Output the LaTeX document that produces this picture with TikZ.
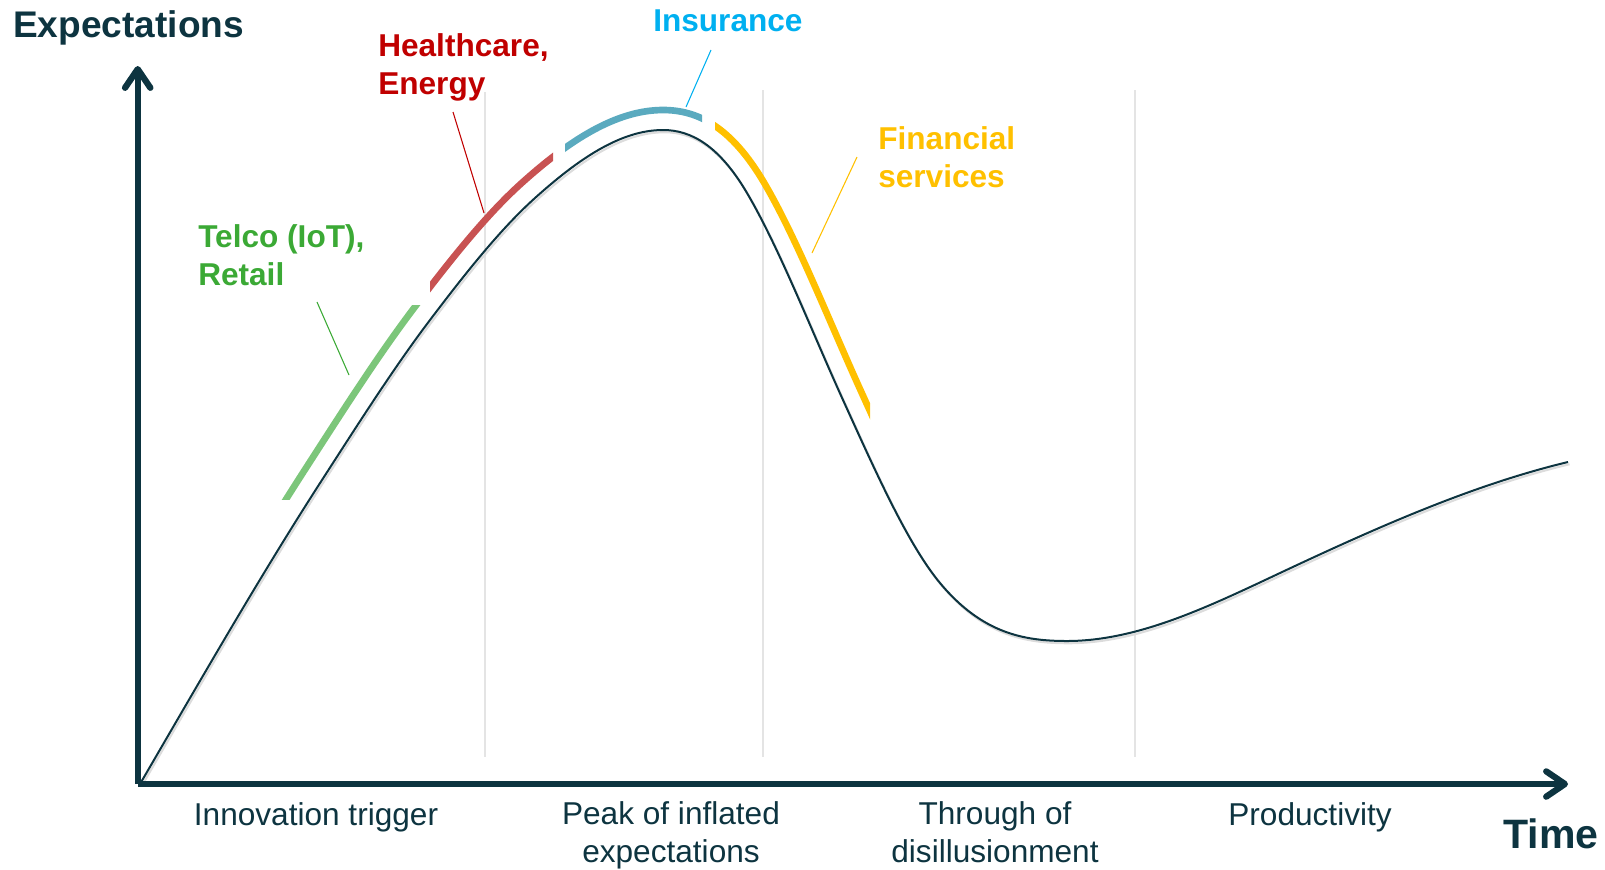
\documentclass[tikz,border=0pt]{standalone}
\usepackage{fontspec}
\setmainfont{Liberation Sans}
\usetikzlibrary{arrows.meta}
\definecolor{dk}{HTML}{0D3440}
\definecolor{gridgray}{HTML}{E4E4E4}
\definecolor{shadowgray}{HTML}{DCDCDC}
\definecolor{segGreen}{HTML}{7CC67A}
\definecolor{segRed}{HTML}{C85252}
\definecolor{segBlue}{HTML}{5AAABF}
\definecolor{segYellow}{HTML}{FFC000}
\definecolor{labGreen}{HTML}{3BA935}
\definecolor{labRed}{HTML}{C00000}
\definecolor{labBlue}{HTML}{00B0F0}
\definecolor{labYellow}{HTML}{FFC000}
\tikzset{
  axisline/.style={dk, line width=4.7pt, -{Straight Barb[length=14pt,width=19pt,round]}},
  phaseline/.style={gridgray, line width=1.9pt},
  mainline/.style={dk, line width=1.5pt},
  shadowline/.style={shadowgray, line width=1.6pt},
  segline/.style={line width=5pt},
  leader/.style={line width=0.8pt},
  catlab/.style={inner sep=0pt, align=left, anchor=base west, font=\bfseries\fontsize{23.7}{28}\selectfont},
  phaselab/.style={inner sep=0pt, align=center, anchor=base, text=dk, font=\fontsize{23.7}{28}\selectfont},
  axislab/.style={inner sep=0pt, anchor=base west, text=dk, font=\bfseries}
}
\begin{document}
\begin{tikzpicture}[x=0.75pt,y=-0.75pt]
\useasboundingbox (0,0) rectangle (1605,869);

% phase separators
\draw[phaseline] (485,92) -- (485,757);
\draw[phaseline] (763,90) -- (763,757);
\draw[phaseline] (1135,90) -- (1135,757);

% main hype curve with soft shadow
\foreach \st/\sx/\sy in {shadowline/1.5/2.2, mainline/0/0}{
  \draw[\st, shift={(\sx,\sy)}]
    (140,784) .. controls (200.7,679.7) and (261.3,574) .. (322,480)
    .. controls (358,424.2) and (394,367.5) .. (430,320)
    .. controls (465,273.8) and (500,229.5) .. (535,198)
    .. controls (577.7,159.6) and (620.3,130) .. (663,130)
    .. controls (691,130) and (719,145.4) .. (747,193)
    .. controls (779,247.4) and (811,329.6) .. (843,400)
    .. controls (875.3,471.1) and (907.7,544.2) .. (940,583)
    .. controls (982.3,633.8) and (1024.7,641) .. (1067,641)
    .. controls (1138,641) and (1209,606.4) .. (1280,573)
    .. controls (1376,527.9) and (1472,485) .. (1568,462);
}

% coloured sector segments (parallel curve, clipped per sector)
\foreach \col/\ax/\ay/\bx/\by in {segGreen/0/305/428/499, segRed/430/0/553/869, segBlue/565/0/702/869, segYellow/715/0/870/869}{
  \begin{scope}
    \clip (\ax,\ay) rectangle (\bx,\by);
    \draw[segline, \col]
      (122.7,773.9) .. controls (183.5,669.3) and (244.4,563.5) .. (305.2,469.2)
      .. controls (341.5,412.9) and (377.8,355.8) .. (414.1,307.9)
      .. controls (449.9,260.6) and (485.8,215.3) .. (521.6,183.1)
      .. controls (568.7,140.7) and (615.9,110) .. (663,110)
      .. controls (696.7,110) and (730.5,125.6) .. (764.2,182.9)
      .. controls (796.5,237.9) and (828.9,320.6) .. (861.2,391.7)
      .. controls (892.6,460.8) and (924,532.5) .. (955.4,570.2);
  \end{scope}
}

% axes
\coordinate (origin) at (137.7,784);
\coordinate (ytip) at (137.7,66);
\coordinate (xtip) at (1568,784);
\draw[axisline] (origin) -- (ytip);
\draw[axisline] (origin) -- (xtip);

% axis labels
\node[axislab, font=\bfseries\fontsize{27.8}{33}\selectfont] (explab) at (13,37) {Expectations};
\node[axislab, font=\bfseries\fontsize{30.8}{36}\selectfont] (timelab) at (1503,848) {Time};

% sector labels (anchored on the baseline of the last line)
\node[catlab, text=labGreen] (telco) at (198,285) {Telco (IoT),\\Retail};
\node[catlab, text=labRed] (health) at (378,94) {Healthcare,\\Energy};
\node[catlab, text=labBlue] (insur) at (653,31) {Insurance};
\node[catlab, text=labYellow] (fin) at (878,187) {Financial\\services};

% leader lines
\coordinate (g1) at (317,302); \coordinate (g2) at (349,375);
\coordinate (r1) at (453,112); \coordinate (r2) at (484,213);
\coordinate (b1) at (711,50);  \coordinate (b2) at (686,107);
\coordinate (y1) at (857,157); \coordinate (y2) at (812,253);
\draw[leader, labGreen] (g1) -- (g2);
\draw[leader, labRed] (r1) -- (r2);
\draw[leader, labBlue] (b1) -- (b2);
\draw[leader, labYellow] (y1) -- (y2);

% phase labels
\node[phaselab] (ph1) at (316,825) {Innovation trigger};
\node[phaselab] (ph2) at (671,862) {Peak of inflated\\expectations};
\node[phaselab] (ph3) at (995,862) {Through of\\disillusionment};
\node[phaselab] (ph4) at (1310,825) {Productivity};
\end{tikzpicture}
\end{document}
